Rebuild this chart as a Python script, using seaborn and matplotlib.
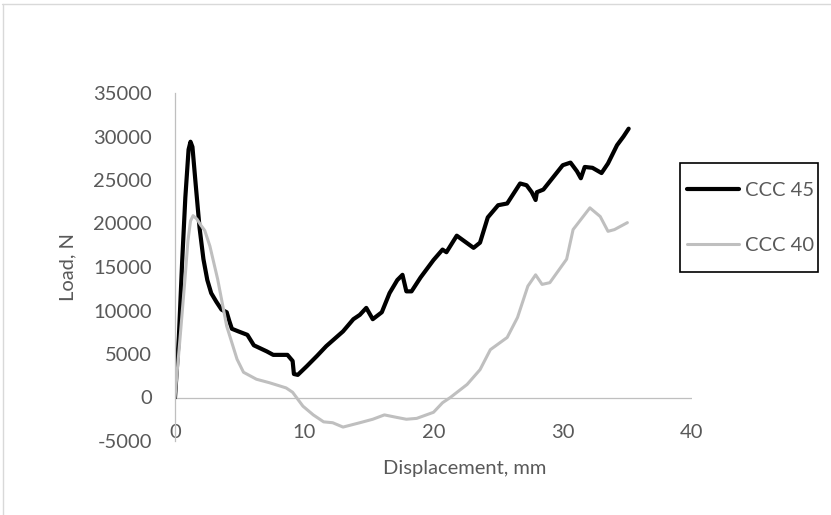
import numpy as np
import pandas as pd
import matplotlib
matplotlib.use("Agg")
import matplotlib.pyplot as plt
import seaborn as sns
from matplotlib.lines import Line2D
from matplotlib.patches import Rectangle

# CCC 45 series (displacement mm, load N)
ccc45_x = [0, 0.3, 0.55, 0.8, 1.05, 1.2, 1.35, 1.6, 1.9, 2.2, 2.5, 2.8, 3.2, 3.6, 4.0, 4.2, 4.4,
           4.9, 5.6, 6.1, 7.1, 7.6, 8.7, 9.1, 9.2, 9.5, 10.2, 11.0, 11.7, 13.0, 13.8, 14.3, 14.8,
           15.3, 16.0, 16.6, 17.2, 17.6, 17.9, 18.3, 19.0, 20.0, 20.7, 21.0, 21.8, 23.1, 23.6,
           24.2, 25.0, 25.7, 26.7, 27.2, 27.6, 27.9, 28.0, 28.5, 30.0, 30.6, 31.1, 31.4, 31.7,
           32.3, 33.0, 33.5, 34.2, 34.7, 35.1]
ccc45_y = [0, 7000, 15500, 23000, 28500, 29400, 28800, 24500, 19500, 15900, 13500, 12000, 11000,
           10100, 9800, 8800, 7900, 7600, 7200, 6000, 5300, 4900, 4900, 4200, 2700, 2600, 3600,
           4800, 5900, 7600, 9000, 9500, 10300, 9000, 9800, 12000, 13500, 14100, 12200, 12200,
           13800, 15800, 17000, 16700, 18600, 17200, 17800, 20700, 22100, 22300, 24600, 24400,
           23600, 22700, 23600, 23900, 26700, 27000, 26000, 25200, 26500, 26400, 25800, 26900,
           29000, 30000, 30900]

# CCC 40 series
ccc40_x = [0, 0.4, 0.77, 1.0, 1.2, 1.4, 1.7, 2.0, 2.3, 2.7, 3.3, 4.0, 4.8, 5.3, 6.3, 7.3, 8.6,
           9.1, 9.9, 10.7, 11.5, 12.2, 13.0, 14.3, 15.3, 16.2, 17.2, 17.9, 18.7, 20.0, 20.7,
           21.3, 22.6, 23.6, 24.4, 25.7, 26.5, 27.3, 27.9, 28.4, 29.0, 30.3, 30.8, 32.1, 32.9,
           33.5, 34.0, 35.0]
ccc40_y = [0, 7000, 13600, 18000, 20300, 20900, 20500, 19800, 19200, 17400, 13600, 8200, 4400,
           2900, 2100, 1700, 1100, 600, -1000, -2000, -2800, -2900, -3400, -2900, -2500, -2000,
           -2300, -2500, -2400, -1700, -600, 0, 1500, 3200, 5500, 6900, 9200, 12800, 14100,
           13000, 13200, 15900, 19300, 21800, 20800, 19100, 19300, 20100]

series_names = ["CCC 45", "CCC 40"]
x_ticks = [0, 10, 20, 30, 40]
y_ticks = [-5000, 0, 5000, 10000, 15000, 20000, 25000, 30000, 35000]

df = pd.concat([
    pd.DataFrame({"x": ccc45_x, "y": ccc45_y, "s": series_names[0]}),
    pd.DataFrame({"x": ccc40_x, "y": ccc40_y, "s": series_names[1]}),
])

sns.set_theme(style="white")
plt.rcParams["font.family"] = ["Lato", "DejaVu Sans"]
FS = 14.5

fig = plt.figure(figsize=(8.31, 5.15), dpi=100)
ax = fig.add_axes([175/831, 1-441/515, 517/831, 348/515])

palette = {"CCC 45": "#000000", "CCC 40": "#BFBFBF"}
widths = {"CCC 45": 3.0, "CCC 40": 2.2}
for name in series_names:
    sub = df[df.s == name]
    sns.lineplot(data=sub, x="x", y="y", sort=False, estimator=None, color=palette[name],
                 lw=widths[name], ax=ax, legend=False)

ax.set_xlim(0, 40)
ax.set_ylim(-5000, 35000)
ax.set_xticks(x_ticks)
ax.set_yticks(y_ticks)
ax.set_yticklabels([str(v) for v in y_ticks])
ax.set_xticklabels([str(v) for v in x_ticks])
for sp in ["top", "right", "bottom"]:
    ax.spines[sp].set_visible(False)
ax.spines["left"].set_color("#BFBFBF")
ax.spines["left"].set_linewidth(0.9)
ax.axhline(0, color="#BFBFBF", lw=0.9, zorder=0)

tc = "#595959"
ax.tick_params(axis="both", length=0, labelsize=FS, colors=tc)
ax.tick_params(axis="y", pad=16.5)
ax.tick_params(axis="x", pad=-12.5)

ax.set_xlabel("Displacement, mm", fontsize=FS, color=tc)
ax.set_ylabel("Load, N", fontsize=FS, color=tc)
ax.xaxis.set_label_coords(0.561, -0.055)
ax.xaxis.label.set_va("top")
ax.yaxis.set_label_coords(-0.19, 0.5)

handles = [Line2D([], [], color=palette[n], lw=widths[n]) for n in series_names]
leg = fig.legend(handles, series_names, loc="upper left",
                 bbox_to_anchor=(687/831, 1-182/515), borderaxespad=0, borderpad=0,
                 frameon=False, fontsize=FS, labelcolor=tc,
                 handlelength=2.6, labelspacing=1.9, handletextpad=0.3)

# legend box
fig.add_artist(Rectangle((680/831, 1-272/515), 138/831, 109/515, transform=fig.transFigure,
                         fill=False, edgecolor="black", lw=1.2))

# light border of the chart area (top and left edges)
fig.add_artist(Line2D([2/831, 1], [1-3.5/515, 1-3.5/515], color="#D9D9D9", lw=1))
fig.add_artist(Line2D([2.5/831, 2.5/831], [0, 1-3.5/515], color="#D9D9D9", lw=1))

fig.savefig("out.png", dpi=100)
